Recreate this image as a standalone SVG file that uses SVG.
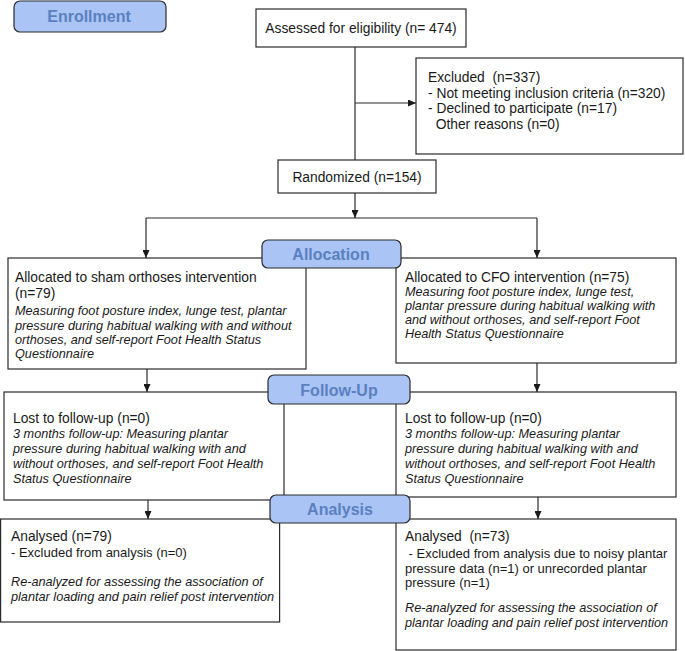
<svg xmlns="http://www.w3.org/2000/svg" width="685" height="651" viewBox="0 0 685 651">
<style>
  .box{fill:#ffffff;stroke:#2b2b2b;stroke-width:1.2}
  .phase{fill:#a9c4f5;stroke:#2b2b2b;stroke-width:1.2}
  .ph{font-family:"Liberation Sans",Arial,sans-serif;font-size:16px;font-weight:bold;fill:#5b80bf;text-anchor:middle}
  .t{font-family:"Liberation Sans",Arial,sans-serif;font-size:13.8px;fill:#1a1a1a;white-space:pre}
  .s{font-family:"Liberation Sans",Arial,sans-serif;font-size:13px;fill:#1a1a1a;white-space:pre}
  .i{font-family:"Liberation Sans",Arial,sans-serif;font-size:12.7px;font-style:italic;fill:#1a1a1a}
  .c{text-anchor:middle}
  .ln{fill:none;stroke:#2b2b2b;stroke-width:1.2}
</style>
<defs>
  <marker id="ah" markerUnits="userSpaceOnUse" markerWidth="8" markerHeight="7" refX="8" refY="3.5" orient="auto">
    <path d="M0,0 L8,3.5 L0,7 z" fill="#1a1a1a"/>
  </marker>
</defs>
<rect width="685" height="651" fill="#ffffff"/>

<g id="connectors">
  <line class="ln" x1="355" y1="47" x2="355" y2="160"/>
  <line class="ln" x1="355" y1="103" x2="416" y2="103" marker-end="url(#ah)"/>
  <line class="ln" x1="355" y1="193" x2="355" y2="218" marker-end="url(#ah)"/>
  <line class="ln" x1="146" y1="218" x2="537" y2="218"/>
  <line class="ln" x1="146" y1="218" x2="146" y2="258" marker-end="url(#ah)"/>
  <line class="ln" x1="537" y1="218" x2="537" y2="258" marker-end="url(#ah)"/>
  <line class="ln" x1="147" y1="369" x2="147" y2="392" marker-end="url(#ah)"/>
  <line class="ln" x1="537" y1="363" x2="537" y2="392" marker-end="url(#ah)"/>
  <line class="ln" x1="148" y1="500" x2="148" y2="519" marker-end="url(#ah)"/>
  <line class="ln" x1="538" y1="497" x2="538" y2="519" marker-end="url(#ah)"/>
</g>

<g id="assessed">
  <rect class="box" x="256" y="9" width="210" height="38"/>
  <text class="t c" x="361" y="33">Assessed for eligibility (n= 474)</text>
</g>

<g id="excluded">
  <rect class="box" x="416" y="58" width="267" height="96"/>
  <text class="t" x="428" y="82">Excluded  (n=337)</text>
  <text class="t" x="428" y="97.5">- Not meeting inclusion criteria (n=320)</text>
  <text class="t" x="428" y="113">- Declined to participate (n=17)</text>
  <text class="t" x="428" y="128.5">  Other reasons (n=0)</text>
</g>

<g id="randomized">
  <rect class="box" x="278" y="160" width="158" height="33"/>
  <text class="t c" x="357" y="182">Randomized (n=154)</text>
</g>

<g id="alloc-sham">
  <rect class="box" x="8" y="258" width="298" height="111"/>
  <text class="t" x="15" y="281.5">Allocated to sham orthoses intervention</text>
  <text class="t" x="15" y="298">(n=79)</text>
  <text class="i" x="15" y="315">Measuring foot posture index, lunge test, plantar</text>
  <text class="i" x="15" y="329.5">pressure during habitual walking with and without</text>
  <text class="i" x="15" y="344">orthoses, and self-report Foot Health Status</text>
  <text class="i" x="15" y="358">Questionnaire</text>
</g>

<g id="alloc-cfo">
  <rect class="box" x="396" y="258" width="280" height="105"/>
  <text class="t" x="405" y="281.5">Allocated to CFO intervention (n=75)</text>
  <text class="i" x="405" y="295.5">Measuring foot posture index, lunge test,</text>
  <text class="i" x="405" y="309.5">plantar pressure during habitual walking with</text>
  <text class="i" x="405" y="323.5">and without orthoses, and self-report Foot</text>
  <text class="i" x="405" y="337.5">Health Status Questionnaire</text>
</g>

<g id="lost-sham">
  <rect class="box" x="4" y="392" width="280" height="108"/>
  <text class="t" x="13" y="423">Lost to follow-up (n=0)</text>
  <text class="i" x="13" y="438">3 months follow-up: Measuring plantar</text>
  <text class="i" x="13" y="453">pressure during habitual walking with and</text>
  <text class="i" x="13" y="468">without orthoses, and self-report Foot Health</text>
  <text class="i" x="13" y="483">Status Questionnaire</text>
</g>

<g id="lost-cfo">
  <rect class="box" x="396" y="392" width="280" height="105"/>
  <text class="t" x="405" y="423">Lost to follow-up (n=0)</text>
  <text class="i" x="405" y="438">3 months follow-up: Measuring plantar</text>
  <text class="i" x="405" y="453">pressure during habitual walking with and</text>
  <text class="i" x="405" y="468">without orthoses, and self-report Foot Health</text>
  <text class="i" x="405" y="483">Status Questionnaire</text>
</g>

<g id="analysed-sham">
  <rect class="box" x="0.6" y="519" width="279" height="103"/>
  <text class="t" x="11" y="541">Analysed (n=79)</text>
  <text class="s" x="11" y="557">- Excluded from analysis (n=0)</text>
  <text class="i" x="11" y="586">Re-analyzed for assessing the association of</text>
  <text class="i" x="11" y="600.5">plantar loading and pain relief post intervention</text>
</g>

<g id="analysed-cfo">
  <rect class="box" x="396" y="519" width="280" height="131"/>
  <text class="t" x="405" y="541">Analysed  (n=73)</text>
  <text class="s" x="405" y="558"> - Excluded from analysis due to noisy plantar</text>
  <text class="s" x="405" y="572.5">pressure data (n=1) or unrecorded plantar</text>
  <text class="s" x="405" y="587">pressure (n=1)</text>
  <text class="i" x="405" y="612">Re-analyzed for assessing the association of</text>
  <text class="i" x="405" y="626.5">plantar loading and pain relief post intervention</text>
</g>

<g id="enrollment">
  <rect class="phase" x="14" y="1" width="152" height="31" rx="6"/>
  <text class="ph" x="89" y="22">Enrollment</text>
</g>
<g id="allocation">
  <rect class="phase" x="262" y="240" width="139" height="28" rx="6"/>
  <text class="ph" x="331" y="260">Allocation</text>
</g>
<g id="followup">
  <rect class="phase" x="268" y="375" width="142" height="29" rx="6"/>
  <text class="ph" x="339" y="395.5">Follow-Up</text>
</g>
<g id="analysis">
  <rect class="phase" x="270" y="495" width="140" height="28" rx="6"/>
  <text class="ph" x="340" y="515">Analysis</text>
</g>
</svg>
